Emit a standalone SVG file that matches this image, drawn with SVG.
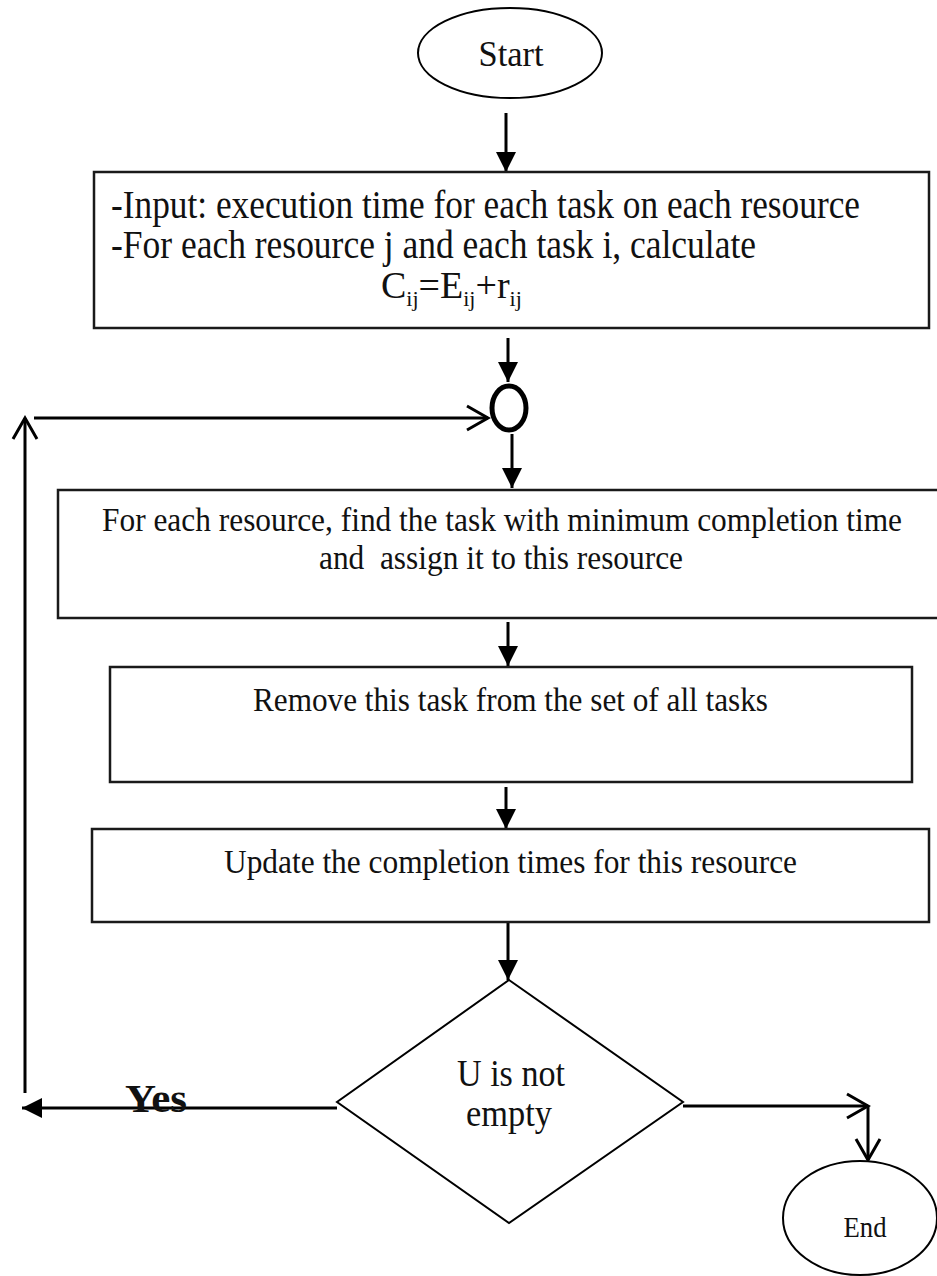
<svg xmlns="http://www.w3.org/2000/svg" width="937" height="1276" viewBox="0 0 937 1276">
  <style>
    .shape { fill: #ffffff; stroke: #000000; stroke-width: 2; }
    .box { fill: #ffffff; stroke: #1a1a1a; stroke-width: 2.5; }
    .txt { font-family: "Liberation Serif", "Times New Roman", serif; fill: #111111; }
    .link { fill: none; stroke: #000000; stroke-width: 3; }
  </style>
  <defs>
    <marker id="solid" markerUnits="userSpaceOnUse" viewBox="0 0 20 20" refX="20" refY="10" markerWidth="20" markerHeight="20" orient="auto">
      <path d="M0,0 L20,10 L0,20 Z" fill="#000000"/>
    </marker>
    <marker id="open" markerUnits="userSpaceOnUse" viewBox="0 0 26 28" refX="23" refY="14" markerWidth="26" markerHeight="28" orient="auto">
      <path d="M2,2 L23,14 L2,26" fill="none" stroke="#000000" stroke-width="3"/>
    </marker>
  </defs>

  <rect width="937" height="1276" fill="#ffffff"/>

  <!-- flow connectors -->
  <g id="connectors">
    <path class="link" d="M506,113 V172" marker-end="url(#solid)"/>
    <path class="link" d="M508,338 V382" marker-end="url(#solid)"/>
    <path class="link" d="M512,434 V488" marker-end="url(#solid)"/>
    <path class="link" d="M508,622 V666" marker-end="url(#solid)"/>
    <path class="link" d="M506,787 V829" marker-end="url(#solid)"/>
    <path class="link" d="M508,922 V980" marker-end="url(#solid)"/>
    <!-- loop back -->
    <path class="link" d="M337,1108 H22" marker-end="url(#solid)"/>
    <path class="link" d="M25,1093 V418" marker-end="url(#open)"/>
    <path class="link" d="M34,418 H488" marker-end="url(#open)"/>
    <!-- exit -->
    <path class="link" d="M683,1106 H868" marker-end="url(#open)"/>
    <path class="link" d="M868,1106 V1160" marker-end="url(#open)"/>
  </g>

  <g id="start">
    <ellipse class="shape" cx="510" cy="53" rx="92" ry="45"/>
    <text class="txt" x="511" y="66" font-size="36" text-anchor="middle" textLength="65" lengthAdjust="spacingAndGlyphs">Start</text>
  </g>

  <g id="input">
    <rect class="box" x="94" y="172" width="835" height="156"/>
    <text class="txt" x="111" y="218" font-size="39" textLength="749" lengthAdjust="spacingAndGlyphs">-Input: execution time for each task on each resource</text>
    <text class="txt" x="111" y="258" font-size="39" textLength="645" lengthAdjust="spacingAndGlyphs">-For each resource j and each task i, calculate</text>
    <text class="txt" x="381" y="298" font-size="38">C<tspan font-size="22" dy="8">ij</tspan><tspan dy="-8">=E</tspan><tspan font-size="22" dy="8">ij</tspan><tspan dy="-8">+r</tspan><tspan font-size="22" dy="8">ij</tspan></text>
  </g>

  <g id="merge">
    <ellipse cx="509" cy="408" rx="17" ry="22" fill="#ffffff" stroke="#000000" stroke-width="5"/>
  </g>

  <g id="assign">
    <rect class="box" x="58" y="490" width="890" height="128"/>
    <text class="txt" x="102" y="531" font-size="34.5" textLength="800" lengthAdjust="spacingAndGlyphs">For each resource, find the task with minimum completion time</text>
    <text class="txt" x="319" y="569" font-size="34.5" textLength="364" lengthAdjust="spacingAndGlyphs" xml:space="preserve">and  assign it to this resource</text>
  </g>

  <g id="remove">
    <rect class="box" x="110" y="667" width="802" height="115"/>
    <text class="txt" x="253" y="711" font-size="34.5" textLength="515" lengthAdjust="spacingAndGlyphs">Remove this task from the set of all tasks</text>
  </g>

  <g id="update">
    <rect class="box" x="92" y="829" width="837" height="93"/>
    <text class="txt" x="224" y="873" font-size="34.5" textLength="573" lengthAdjust="spacingAndGlyphs">Update the completion times for this resource</text>
  </g>

  <g id="check">
    <path class="shape" d="M509,980 L683,1102 L509,1223 L337,1102 Z"/>
    <text class="txt" x="511" y="1086" font-size="37" text-anchor="middle" textLength="108" lengthAdjust="spacingAndGlyphs">U is not</text>
    <text class="txt" x="509" y="1126" font-size="37" text-anchor="middle" textLength="86" lengthAdjust="spacingAndGlyphs">empty</text>
  </g>

  <g id="yes-label">
    <text class="txt" x="125" y="1112" font-size="40" font-weight="bold" textLength="62" lengthAdjust="spacingAndGlyphs">Yes</text>
  </g>

  <g id="end">
    <ellipse class="shape" cx="860" cy="1218" rx="77" ry="57"/>
    <text class="txt" x="865" y="1237" font-size="30" text-anchor="middle" textLength="43" lengthAdjust="spacingAndGlyphs">End</text>
  </g>
</svg>
